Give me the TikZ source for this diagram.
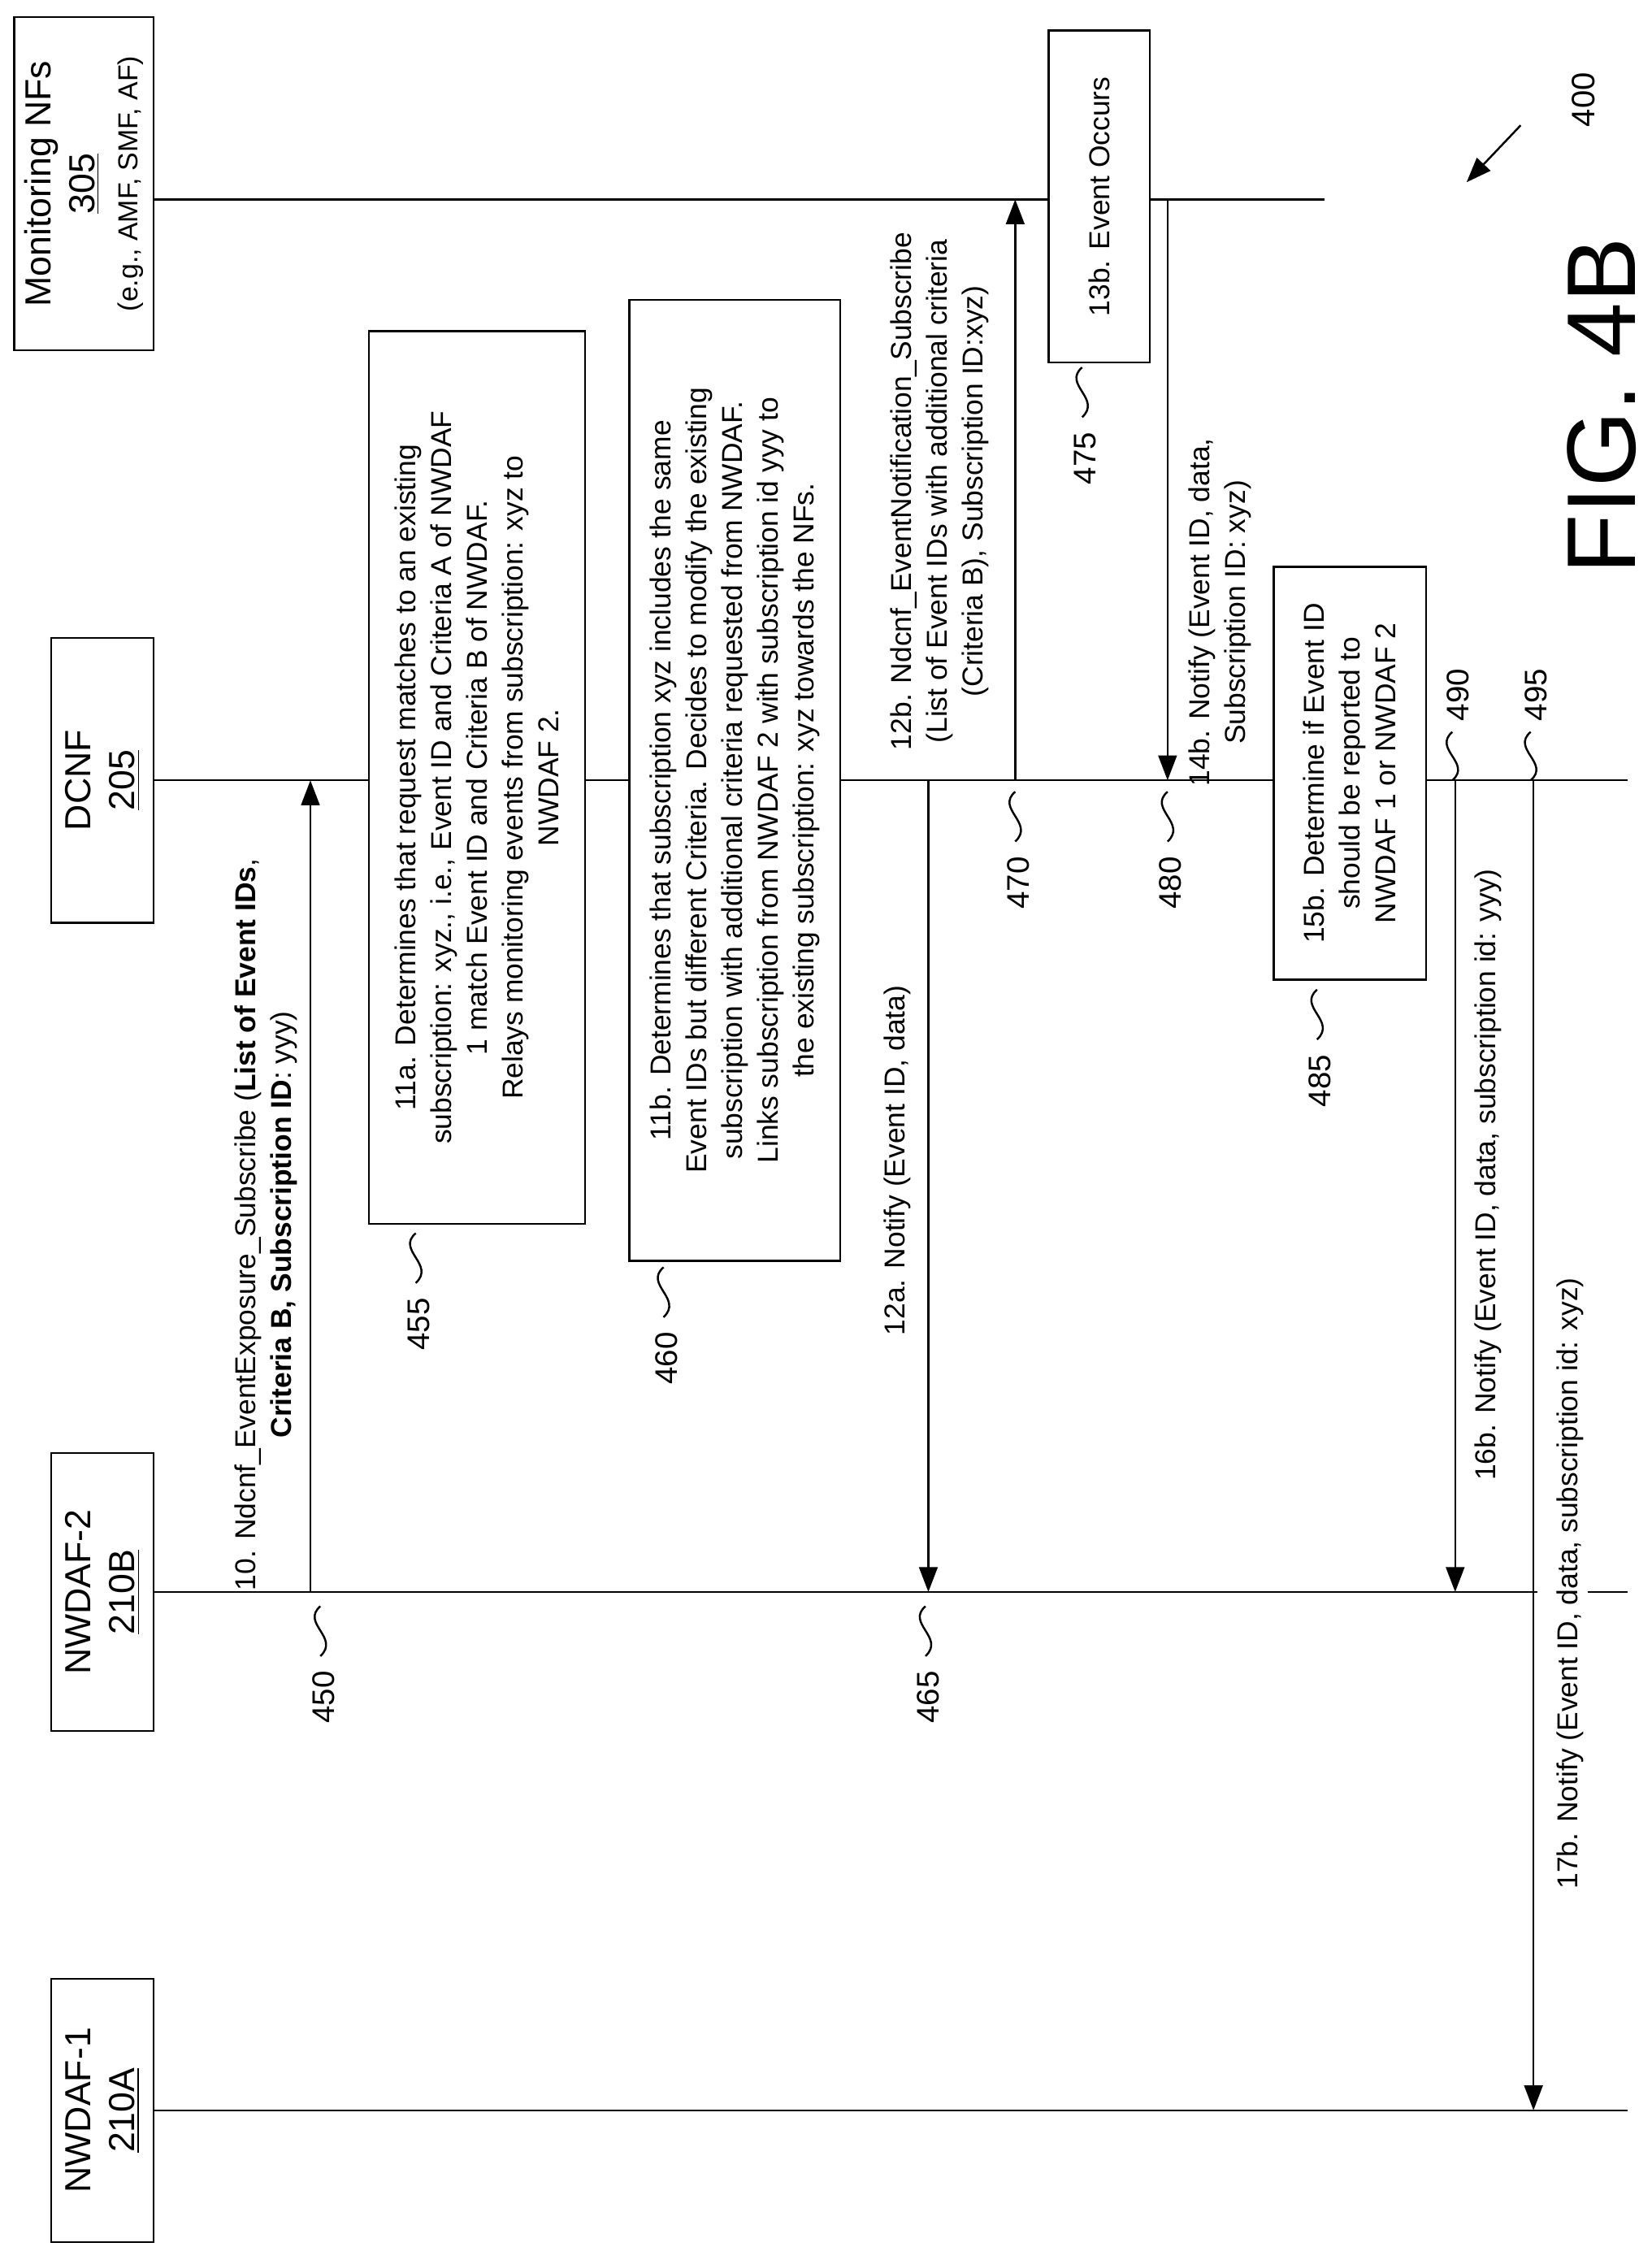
\documentclass[tikz,border=0pt]{standalone}
\usepackage{fontspec}
\setmainfont{Liberation Sans}
\usetikzlibrary{arrows.meta}
\tikzset{
  box/.style={draw, thick, rotate=90, align=center, inner sep=2pt},
  txt/.style={font=\fontsize{11.5}{14.3}\selectfont},
  lbl/.style={rotate=90, align=center, txt},
  head/.style={font=\fontsize{14.5}{17.5}\selectfont},
  msg/.style={thick, -{Triangle[length=3.5mm,width=2.6mm]}},
  life/.style={thick},
  ref/.style={rotate=90, font=\fontsize{12.5}{14}\selectfont}
}
\newcommand{\squig}[3]{%
  \draw[thick] (#1,#2) .. controls (#1-14,#2+12) and (#1+14,#2+22) .. (#1,#2+35);
  \node[ref] at (#1+2,#2+64) {#3};}
\begin{document}
\begin{tikzpicture}[x=0.02cm, y=-0.02cm]
        \useasboundingbox (0,0) rectangle (1160,1578);
        % --- Lifeline boxes ---
        \node[box, head, minimum width=4.68cm, minimum height=1.96cm] (mon) at (59,129)
          {Monitoring NFs\\ \underline{305}\\ {\fontsize{11}{13.5}\selectfont (e.g., AMF, SMF, AF)}};
        \node[box, head, minimum width=4cm, minimum height=1.44cm] (dcnf) at (72,548) {DCNF\\ \underline{205}};
        \node[box, head, minimum width=3.9cm, minimum height=1.44cm] (nw2) at (72,1118) {NWDAF-2\\ \underline{210B}};
        \node[box, head, minimum width=3.7cm, minimum height=1.44cm] (nw1) at (72,1482) {NWDAF-1\\ \underline{210A}};
        % --- Lifelines ---
        \coordinate (monW) at (108,140);
        \coordinate (monE) at (930,140);
        \coordinate (dcnfE) at (1143,548);
        \coordinate (nw2G) at (1080,1118);
        \coordinate (nw2H) at (1115,1118);
        \coordinate (nw2E) at (1143,1118);
        \coordinate (nw1E) at (1143,1482);
        \draw[life] (monW) -- (monE);
        \draw[life] (dcnf.south) -- (dcnfE);
        \draw[life] (nw2.south) -- (nw2G);
        \draw[life] (nw2H) -- (nw2E);
        \draw[life] (nw1.south) -- (nw1E);
        % ---

        % --- Process boxes ---
        \node[box, txt, fill=white, minimum width=12.54cm, minimum height=3.04cm] (b11a) at (335,546)
          {11a. Determines that request matches to an existing\\ subscription: xyz., i.e., Event ID and Criteria A of NWDAF\\ 1 match Event ID and Criteria B of NWDAF.\\ Relays monitoring events from subscription: xyz to\\ NWDAF 2.};
        \node[box, txt, fill=white, minimum width=13.5cm, minimum height=2.96cm] (b11b) at (516,548)
          {11b. Determines that subscription xyz includes the same\\ Event IDs but different Criteria. Decides to modify the existing\\ subscription with additional criteria requested from NWDAF.\\ Links subscription from NWDAF 2 with subscription id yyy to\\ the existing subscription: xyz towards the NFs.};
        \node[box, txt, fill=white, minimum width=4.66cm, minimum height=1.42cm] (b13b) at (772,138) {13b. Event Occurs};
        \node[box, txt, fill=white, minimum width=5.8cm, minimum height=2.14cm] (b15b) at (948,543)
          {15b. Determine if Event ID\\ should be reported to\\ NWDAF 1 or NWDAF 2};
        % ---

        % --- Messages ---
        \coordinate (m10s) at (218,1118);  \coordinate (m10e) at (218,548);
        \coordinate (m12as) at (652,548);  \coordinate (m12ae) at (652,1118);
        \coordinate (m12bs) at (713,548);  \coordinate (m12be) at (713,140);
        \coordinate (m14bs) at (820,140);  \coordinate (m14be) at (820,548);
        \coordinate (m16bs) at (1022,548); \coordinate (m16be) at (1022,1118);
        \coordinate (m17bs) at (1077,548); \coordinate (m17be) at (1077,1482);
        \draw[msg] (m10s) -- (m10e);
        \draw[msg] (m12as) -- (m12ae);
        \draw[msg] (m12bs) -- (m12be);
        \draw[msg] (m14bs) -- (m14be);
        \draw[msg] (m16bs) -- (m16be);
        \draw[msg] (m17bs) -- (m17be);
        \node[lbl] (l10) at (187,860) {10. Ndcnf\_EventExposure\_Subscribe (\textbf{List of Event IDs},\\ \textbf{Criteria B, Subscription ID}: yyy)};
        \node[lbl] (l12a) at (630,815) {12a. Notify (Event ID, data)};
        \node[lbl] (l12b) at (660,345) {12b. Ndcnf\_EventNotification\_Subscribe\\ (List of Event IDs with additional criteria\\ (Criteria B), Subscription ID:xyz)};
        \node[lbl] (l14b) at (857,430) {14b. Notify (Event ID, data,\\ Subscription ID: xyz)};
        \node[lbl] (l16b) at (1045,825) {16b. Notify (Event ID, data, subscription id: yyy)};
        \node[lbl] (l17b) at (1103,1112) {17b. Notify (Event ID, data, subscription id: xyz)};
        % ---

        % --- Reference numerals ---
        \squig{225}{1128}{450}
        \squig{292}{866}{455}
        \squig{466}{890}{460}
        \squig{650}{1128}{465}
        \squig{713}{556}{470}
        \squig{760}{258}{475}
        \squig{820}{556}{480}
        \squig{925}{695}{485}
        \draw[thick] (1020,548) .. controls (1034,536) and (1006,526) .. (1020,514);
        \node[ref] (r490) at (1024,488) {490};
        \draw[thick] (1075,548) .. controls (1089,536) and (1061,526) .. (1075,514);
        \node[ref] (r495) at (1079,488) {495};
        % ---

        % --- Figure label ---
        \node[rotate=90, font=\fontsize{39}{43}\selectfont] (fig) at (1125,285) {FIG. 4B};
        \node[ref, font=\fontsize{13}{15}\selectfont] (r400) at (1112,70) {400};
        \coordinate (a400) at (1068,88);
        \coordinate (b400) at (1030,128);
        \draw[thick, -{Triangle[length=3.5mm,width=2.6mm]}] (a400) -- (b400);
\end{tikzpicture}
\end{document}
